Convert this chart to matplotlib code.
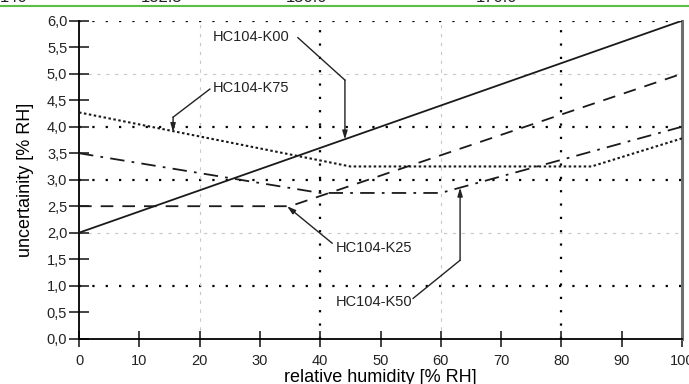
import matplotlib
matplotlib.use("Agg")
import matplotlib.pyplot as plt

plt.rcParams['font.family'] = ['Liberation Sans', 'DejaVu Sans']

# courbes d'incertitude (points d'inflexion)
k00_x = [0, 100]
k00_y = [2.0, 6.0]
k25_x = [0, 35, 100]
k25_y = [2.5, 2.5, 5.0]
k50_x = [0, 40, 60, 100]
k50_y = [3.5, 2.75, 2.75, 4.0]
k75_x = [0, 45, 85, 100]
k75_y = [4.27, 3.25, 3.25, 3.78]

x_ticks = [0, 10, 20, 30, 40, 50, 60, 70, 80, 90, 100]
y_ticks = [0.0, 0.5, 1.0, 1.5, 2.0, 2.5, 3.0, 3.5, 4.0, 4.5, 5.0, 5.5, 6.0]
y_labels = [f"{v:.1f}".replace(".", ",") for v in y_ticks]

# en-tete coupe du tableau au-dessus
header = ["140", "132.5", "150.0", "170.0"]
header_x = [0.0, 0.205, 0.415, 0.69]

fig = plt.figure(figsize=(6.89, 3.84), dpi=100)
ax = fig.add_axes([0.1147, 0.118, 0.8751, 0.828])

# grille : pointilles noirs et tirets gris clair
for y in [1, 3, 4, 6]:
    ax.axhline(y, color="black", lw=1.6, ls=(0, (1, 5)), zorder=1)
for y in [2, 5]:
    ax.axhline(y, color="#c8c8c8", lw=0.8, ls=(0, (3, 5)), zorder=1)
for x in [40, 80]:
    ax.axvline(x, color="black", lw=1.6, ls=(0, (1, 5)), zorder=1)
for x in [20, 60]:
    ax.axvline(x, color="#c8c8c8", lw=0.8, ls=(0, (3, 5)), zorder=1)

ax.plot(k00_x, k00_y, color="#1a1a1a", lw=1.3, zorder=3)
ax.plot(k25_x, k25_y, color="#1a1a1a", lw=1.3, ls=(0, (7, 5)), zorder=3)
ax.plot(k50_x, k50_y, color="#1a1a1a", lw=1.3, ls=(0, (8, 4, 1.5, 4)), zorder=3)
ax.plot(k75_x, k75_y, color="#1a1a1a", lw=1.5, ls=(0, (1.2, 1.2)), zorder=3)

ax.set_xlim(0, 100)
ax.set_ylim(0, 6)
ax.set_xticks(x_ticks)
ax.set_xticklabels([str(v) for v in x_ticks])
ax.set_yticks(y_ticks)
ax.set_yticklabels(y_labels)
ax.tick_params(direction="inout", width=1.2, labelsize=10.5, colors="#222222")
ax.tick_params(axis="x", length=12, pad=5)
ax.tick_params(axis="y", length=15, pad=1)

ax.spines["top"].set_visible(False)
ax.spines["left"].set_linewidth(1.3)
ax.spines["bottom"].set_linewidth(1.3)
ax.spines["right"].set_color("#6e6e6e")
ax.spines["right"].set_linewidth(2.2)

ax.set_xlabel("relative humidity [% RH]", fontsize=13, labelpad=1)
ax.set_ylabel("uncertainity [% RH]", fontsize=13, labelpad=9)

# annotations avec fleches coudees
arrow = dict(arrowstyle="-|>,head_length=0.5,head_width=0.15", color="#222222", lw=1.0,
             shrinkA=0, shrinkB=0)
fs = 10.5

ax.text(22.2, 5.69, "HC104-K00", fontsize=fs, va="center", color="#222222")
ax.plot([36.3, 44.1], [5.68, 4.88], color="#222222", lw=1.0)
ax.annotate("", xy=(44.1, 3.76), xytext=(44.1, 4.88), arrowprops=arrow)

ax.text(22.2, 4.73, "HC104-K75", fontsize=fs, va="center", color="#222222")
ax.plot([21.7, 15.6], [4.71, 4.18], color="#222222", lw=1.0)
ax.annotate("", xy=(15.6, 3.9), xytext=(15.6, 4.18), arrowprops=arrow)

ax.text(42.5, 1.71, "HC104-K25", fontsize=fs, va="center", color="#222222")
ax.annotate("", xy=(34.5, 2.5), xytext=(42.0, 1.8), arrowprops=arrow)

ax.text(42.5, 0.69, "HC104-K50", fontsize=fs, va="center", color="#222222")
ax.plot([55.4, 63.2], [0.76, 1.48], color="#222222", lw=1.0)
ax.annotate("", xy=(63.2, 2.85), xytext=(63.2, 1.48), arrowprops=arrow)

# bande verte et texte tronque en haut
fig.add_artist(plt.Line2D([0, 1], [1 - 6 / 384, 1 - 6 / 384], color="#5cbf45", lw=1.5,
                          transform=fig.transFigure))
for lbl, hx in zip(header, header_x):
    fig.text(hx, 1 - 2 / 384, lbl, fontsize=12, va="baseline", color="#222222")

fig.savefig("out.png", dpi=100)
